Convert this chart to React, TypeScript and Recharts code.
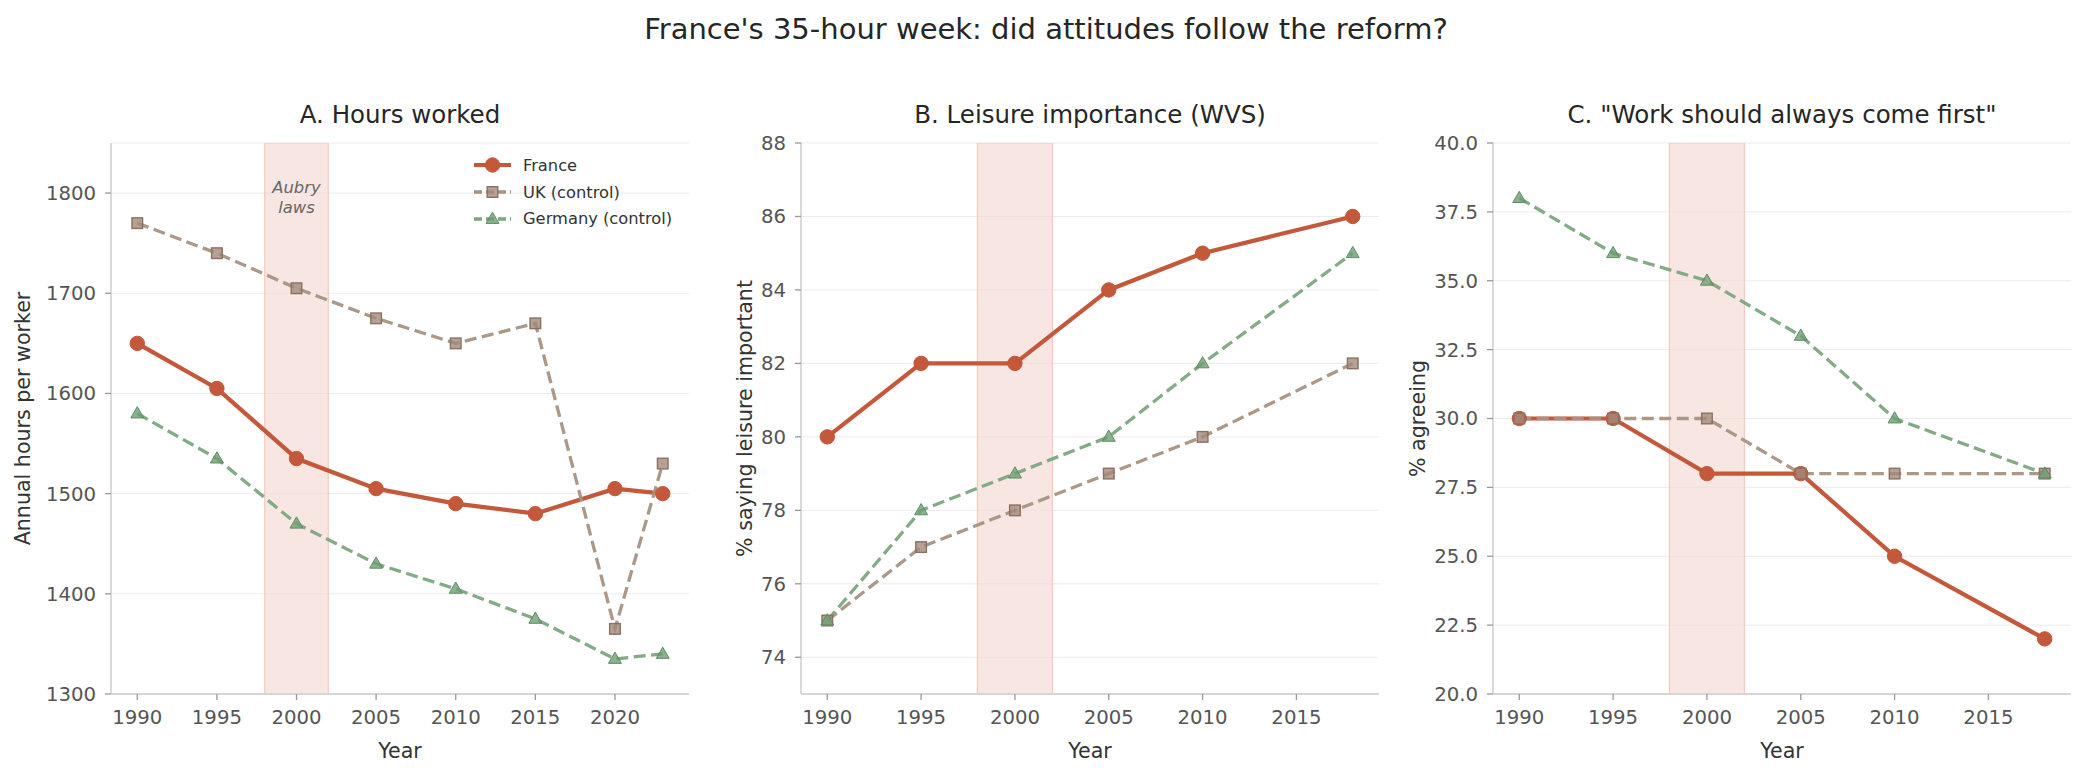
import React from 'react'
import {
  LineChart,
  Line,
  XAxis,
  YAxis,
  CartesianGrid,
  ReferenceArea,
  Label,
} from 'recharts'

// panel A: annual hours
const hoursYears = [1990, 1995, 2000, 2005, 2010, 2015, 2020, 2023]
const franceHours = [1650, 1605, 1535, 1505, 1490, 1480, 1505, 1500]
const ukHours = [1770, 1740, 1705, 1675, 1650, 1670, 1365, 1530]
const germanyHours = [1580, 1535, 1470, 1430, 1405, 1375, 1335, 1340]

// panels B and C: survey waves
const waveYears = [1990, 1995, 2000, 2005, 2010, 2018]
const franceLeisure = [80, 82, 82, 84, 85, 86]
const ukLeisure = [75, 77, 78, 79, 80, 82]
const germanyLeisure = [75, 78, 79, 80, 82, 85]

const franceWork = [30, 30, 28, 28, 25, 22]
const ukWork = [30, 30, 30, 28, 28, 28]
const germanyWork = [38, 36, 35, 33, 30, 28]

const hoursTicks = [1300, 1400, 1500, 1600, 1700, 1800]
const leisureTicks = [74, 76, 78, 80, 82, 84, 86, 88]
const workTicks = [20, 22.5, 25, 27.5, 30, 32.5, 35, 37.5, 40]
const hoursXTicks = [1990, 1995, 2000, 2005, 2010, 2015, 2020]
const waveXTicks = [1990, 1995, 2000, 2005, 2010, 2015]

const seriesNames = ['France', 'UK (control)', 'Germany (control)']

const FONT = '"DejaVu Sans", sans-serif'
const FR = '#C4583A'
const UK_LINE = '#A69283'
const UK_FILL = '#A3897A'
const UK_EDGE = '#8C7060'
const DE_LINE = '#7BA67F'
const DE_FILL = '#6F9F73'
const DE_EDGE = '#5E8C62'

const CHART_W = 694
const CHART_H = 772
const Y_AXIS_W = 111

function circleDot(props: any) {
  const { cx, cy, index } = props
  if (cx == null || cy == null) return <g key={'c' + index} />
  return <circle key={'c' + index} cx={cx} cy={cy} r={7.2} fill={FR} stroke={FR} strokeWidth={1} />
}

function squareDot(props: any) {
  const { cx, cy, index } = props
  if (cx == null || cy == null) return <g key={'s' + index} />
  const s = 10.6
  return (
    <rect
      key={'s' + index}
      x={cx - s / 2}
      y={cy - s / 2}
      width={s}
      height={s}
      fill={UK_FILL}
      fillOpacity={0.8}
      stroke={UK_EDGE}
      strokeWidth={1.4}
    />
  )
}

function triangleDot(props: any) {
  const { cx, cy, index } = props
  if (cx == null || cy == null) return <g key={'t' + index} />
  const r = 6.8
  const pts = `${cx},${cy - r} ${cx + r * 0.95},${cy + r * 0.65} ${cx - r * 0.95},${cy + r * 0.65}`
  return <polygon key={'t' + index} points={pts} fill={DE_FILL} fillOpacity={0.8} stroke={DE_EDGE} strokeWidth={1} />
}

type PanelProps = {
  left: number
  title: string
  years: number[]
  france: number[]
  uk: number[]
  germany: number[]
  xDomain: [number, number]
  xTicks: number[]
  yDomain: [number, number]
  yTicks: number[]
  yLabel: string
  yLabelOffset: number
  yFormat?: (v: number) => string
  annotate?: boolean
}

function Panel(p: PanelProps) {
  const data = p.years.map((year, i) => ({
    year,
    france: p.france[i],
    uk: p.uk[i],
    germany: p.germany[i],
  }))
  const tickStyle = { fontSize: 19.7, fill: '#555555', fontFamily: FONT }

  return (
    <div style={{ position: 'absolute', left: p.left, top: 0, width: CHART_W, height: CHART_H }}>
      <div
        style={{
          position: 'absolute',
          left: Y_AXIS_W,
          width: CHART_W - Y_AXIS_W - 5,
          top: 100,
          textAlign: 'center',
          fontFamily: FONT,
          fontSize: 24.5,
          color: '#262626',
          lineHeight: '30px',
          whiteSpace: 'nowrap',
        }}
      >
        {p.title}
      </div>
      <LineChart
        width={CHART_W}
        height={CHART_H}
        data={data}
        margin={{ top: 143, right: 5, bottom: 0, left: 0 }}
        style={{ fontFamily: FONT }}
      >
        <CartesianGrid vertical={false} stroke="#ececec" strokeWidth={1} />
        <ReferenceArea
          x1={1998}
          x2={2002}
          fill="#F2D9D1"
          fillOpacity={0.65}
          stroke="#F0C2B3"
          strokeOpacity={0.8}
          strokeWidth={1.2}
          ifOverflow="hidden"
        >
          {p.annotate && (
            <Label
              content={(lp: any) => {
                const vb = lp.viewBox || {}
                const cx = vb.x + vb.width / 2
                return (
                  <g>
                    <text x={cx} y={vb.y + 44} textAnchor="middle" dominantBaseline="central" fontStyle="italic" fontSize={16.4} fill="#666666" fontFamily={FONT}>
                      Aubry
                    </text>
                    <text x={cx} y={vb.y + 64} textAnchor="middle" dominantBaseline="central" fontStyle="italic" fontSize={16.4} fill="#666666" fontFamily={FONT}>
                      laws
                    </text>
                  </g>
                )
              }}
            />
          )}
        </ReferenceArea>
        <XAxis
          dataKey="year"
          type="number"
          domain={p.xDomain}
          ticks={p.xTicks}
          allowDataOverflow
          height={CHART_H - 143 - 551}
          tickSize={6}
          tickMargin={10}
          tickLine={{ stroke: '#999999', strokeWidth: 1.3 }}
          axisLine={{ stroke: '#d6d6d6', strokeWidth: 1.8 }}
          tick={tickStyle}
          interval={0}
        >
          <Label
            content={(lp: any) => {
              const vb = lp.viewBox || {}
              return (
                <text x={vb.x + vb.width / 2} y={vb.y + 57} textAnchor="middle" dominantBaseline="central" fontSize={20.6} fill="#333333" fontFamily={FONT}>
                  Year
                </text>
              )
            }}
          />
        </XAxis>
        <YAxis
          type="number"
          domain={p.yDomain}
          ticks={p.yTicks}
          allowDataOverflow
          width={Y_AXIS_W}
          tickSize={6}
          tickMargin={9}
          tickLine={{ stroke: '#999999', strokeWidth: 1.3 }}
          axisLine={{ stroke: '#d6d6d6', strokeWidth: 1.8 }}
          tick={tickStyle}
          interval={0}
          tickFormatter={p.yFormat}
        >
          <Label
            content={(lp: any) => {
              const vb = lp.viewBox || {}
              const x = vb.x + vb.width - p.yLabelOffset
              const y = vb.y + vb.height / 2
              return (
                <text x={x} y={y} transform={`rotate(-90 ${x} ${y})`} textAnchor="middle" dominantBaseline="central" fontSize={20.6} fill="#333333" fontFamily={FONT}>
                  {p.yLabel}
                </text>
              )
            }}
          />
        </YAxis>
        <Line
          dataKey="france"
          name={seriesNames[0]}
          stroke={FR}
          strokeWidth={4.2}
          dot={circleDot}
          activeDot={false}
          isAnimationActive={false}
        />
        <Line
          dataKey="uk"
          name={seriesNames[1]}
          stroke={UK_LINE}
          strokeOpacity={0.95}
          strokeWidth={3.3}
          strokeDasharray="12 5.5"
          dot={squareDot}
          activeDot={false}
          isAnimationActive={false}
        />
        <Line
          dataKey="germany"
          name={seriesNames[2]}
          stroke={DE_LINE}
          strokeOpacity={0.95}
          strokeWidth={3.3}
          strokeDasharray="12 5.5"
          dot={triangleDot}
          activeDot={false}
          isAnimationActive={false}
        />
      </LineChart>
    </div>
  )
}

function LegendBox() {
  const rows = [
    { name: seriesNames[0], color: FR, width: 4.2, dash: undefined, marker: 'circle' },
    { name: seriesNames[1], color: UK_LINE, width: 3.3, dash: '8 4', marker: 'square' },
    { name: seriesNames[2], color: DE_LINE, width: 3.3, dash: '8 4', marker: 'triangle' },
  ]
  return (
    <div style={{ position: 'absolute', left: 472, top: 152, fontFamily: FONT }}>
      {rows.map((r) => (
        <div key={r.name} style={{ display: 'flex', alignItems: 'center', height: 26.7 }}>
          <svg width={42} height={20} style={{ display: 'block' }}>
            <line x1={2} y1={10} x2={39} y2={10} stroke={r.color} strokeWidth={r.width} strokeDasharray={r.dash} />
            {r.marker === 'circle' && circleDot({ cx: 20.5, cy: 10, index: 0 })}
            {r.marker === 'square' && squareDot({ cx: 20.5, cy: 10, index: 0 })}
            {r.marker === 'triangle' && triangleDot({ cx: 20.5, cy: 10, index: 0 })}
          </svg>
          <span style={{ marginLeft: 9, fontSize: 16.3, color: '#333333', whiteSpace: 'nowrap' }}>{r.name}</span>
        </div>
      ))}
    </div>
  )
}

export default function App() {
  return (
    <div style={{ position: 'fixed', left: 0, top: 0, width: 2085, height: 772, background: '#ffffff', overflow: 'hidden' }}>
      <div
        style={{
          position: 'absolute',
          left: 0,
          width: 2092,
          top: 11,
          textAlign: 'center',
          fontFamily: FONT,
          fontSize: 29,
          color: '#262626',
          lineHeight: '36px',
        }}
      >
        France's 35-hour week: did attitudes follow the reform?
      </div>
      <Panel
        left={0}
        title="A. Hours worked"
        years={hoursYears}
        france={franceHours}
        uk={ukHours}
        germany={germanyHours}
        xDomain={[1988.35, 2024.65]}
        xTicks={hoursXTicks}
        yDomain={[1300, 1850]}
        yTicks={hoursTicks}
        yLabel="Annual hours per worker"
        yLabelOffset={88}
        annotate
      />
      <Panel
        left={690}
        title="B. Leisure importance (WVS)"
        years={waveYears}
        france={franceLeisure}
        uk={ukLeisure}
        germany={germanyLeisure}
        xDomain={[1988.6, 2019.4]}
        xTicks={waveXTicks}
        yDomain={[73, 88]}
        yTicks={leisureTicks}
        yLabel="% saying leisure important"
        yLabelOffset={56.5}
      />
      <Panel
        left={1382}
        title={'C. "Work should always come first"'}
        years={waveYears}
        france={franceWork}
        uk={ukWork}
        germany={germanyWork}
        xDomain={[1988.6, 2019.4]}
        xTicks={waveXTicks}
        yDomain={[20, 40]}
        yTicks={workTicks}
        yLabel="% agreeing"
        yLabelOffset={75}
        yFormat={(v: number) => v.toFixed(1)}
      />
      <LegendBox />
    </div>
  )
}
